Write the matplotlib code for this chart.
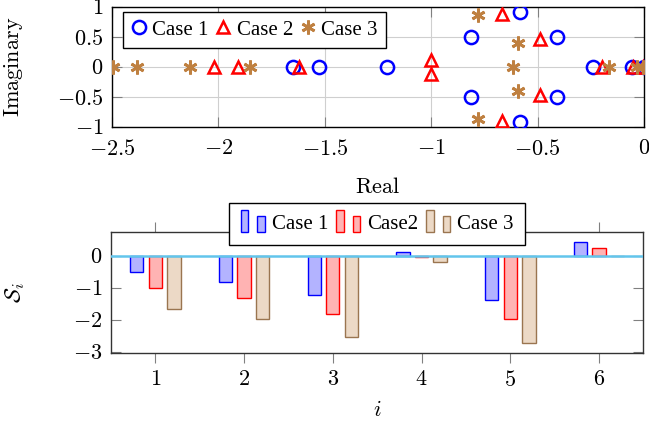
import matplotlib
matplotlib.use("Agg")
import matplotlib.pyplot as plt
from matplotlib.patches import Rectangle
from matplotlib.legend_handler import HandlerBase
import numpy as np

plt.rcParams['mathtext.fontset'] = 'cm'
plt.rcParams['font.family'] = ['Liberation Serif', 'DejaVu Serif']

# ---------------- data: eigenvalues (top) ----------------
case1_re = [-1.648, -1.527, -1.209, -0.813, -0.813, -0.581, -0.581, -0.410, -0.410, -0.238, -0.058, 0.0]
case1_im = [0.0, 0.0, 0.0, 0.50, -0.50, 0.91, -0.91, 0.50, -0.50, 0.0, 0.0, 0.0]
case2_re = [-2.019, -1.909, -1.621, -0.999, -0.999, -0.669, -0.669, -0.489, -0.489, -0.199, -0.050, -0.005]
case2_im = [0.0, 0.0, 0.0, 0.12, -0.12, 0.89, -0.89, 0.47, -0.47, 0.0, 0.0, 0.0]
case3_re = [-2.494, -2.384, -2.133, -1.852, -0.779, -0.779, -0.594, -0.594, -0.617, -0.165, -0.034, -0.003]
case3_im = [0.0, 0.0, 0.0, 0.0, 0.86, -0.86, 0.40, -0.40, 0.0, 0.0, 0.0, 0.0]
top_xticks = [-2.5, -2, -1.5, -1, -0.5, 0]
top_xticklabels = [r'$-2.5$', r'$-2$', r'$-1.5$', r'$-1$', r'$-0.5$', r'$0$']
top_yticks = [-1, -0.5, 0, 0.5, 1]
top_yticklabels = [r'$-1$', r'$-0.5$', r'$0$', r'$0.5$', r'$1$']

# ---------------- data: sensitivities (bottom) ----------------
idx = [1, 2, 3, 4, 5, 6]
s_case1 = [-0.51, -0.81, -1.23, 0.11, -1.38, 0.42]
s_case2 = [-1.02, -1.31, -1.80, -0.05, -1.96, 0.23]
s_case3 = [-1.67, -1.96, -2.53, -0.20, -2.73, -0.02]
bot_yticks = [-3, -2, -1, 0]
bot_yticklabels = [r'$-3$', r'$-2$', r'$-1$', r'$0$']
bot_xticklabels = [r'$1$', r'$2$', r'$3$', r'$4$', r'$5$', r'$6$']
legend_labels = ['Case 1', 'Case2', 'Case 3']

BLUE = '#0000ff'
RED = '#ff0000'
BROWN = '#bf8040'
TICKC = '#808080'

fig = plt.figure(figsize=(6.49, 4.25), dpi=100)
W, H = 649, 425

def axes_px(l, r, t, b):
    return fig.add_axes([l / W, 1 - b / H, (r - l) / W, (b - t) / H])

# ---------------- top axes ----------------
ax1 = axes_px(112, 644, 7, 127.3)
ax1.plot(case1_re, case1_im, linestyle='none', marker='o', ms=9.5, mfc='none',
         mec=BLUE, mew=1.8, label='Case 1', zorder=3)
ax1.plot(case2_re, case2_im, linestyle='none', marker='^', ms=8.5, mfc='none',
         mec=RED, mew=1.8, label='Case 2', zorder=3)
ax1.plot(case3_re, case3_im, linestyle='none', marker=(6, 2, 0), ms=10, mfc='none',
         mec=BROWN, mew=2.0, label='Case 3', zorder=3)
ax1.set_xlim(-2.5, 0)
ax1.set_ylim(-1, 1)
ax1.set_xticks(top_xticks)
ax1.set_xticklabels(top_xticklabels)
ax1.set_yticks(top_yticks)
ax1.set_yticklabels(top_yticklabels)
ax1.grid(True, color='#cfcfcf', lw=0.8)
ax1.set_axisbelow(True)
ax1.tick_params(direction='in', length=7, width=0.8, color=TICKC, top=True, right=True,
                labelsize=16)
ax1.tick_params(axis='x', pad=9)
ax1.tick_params(axis='y', pad=6)
for s in ax1.spines.values():
    s.set_color('black')
    s.set_linewidth(1.0)
ax1.set_xlabel(r'$\mathrm{Real}$', fontsize=16)
ax1.set_ylabel(r'$\mathrm{Imaginary}$', fontsize=16)
ax1.xaxis.set_label_coords(0.5, -0.42)
ax1.yaxis.set_label_coords(-0.1635, 0.5)
leg1 = ax1.legend(loc='upper left', bbox_to_anchor=(0.021, 0.961), borderaxespad=0,
                  ncol=3, fontsize=15, handlelength=0.7, handletextpad=0.3,
                  columnspacing=0.35, borderpad=0.4, fancybox=False, framealpha=1,
                  edgecolor='black')
leg1.get_frame().set_linewidth(1.0)

# ---------------- bottom axes ----------------
ax2 = axes_px(111, 643.3, 232.3, 352.7)
x = np.array(idx, dtype=float)
bw = 0.15
off = 0.21
specs = [(s_case1, -off, '#b3b3ff', BLUE),
         (s_case2, 0.0, '#ffb3b3', RED),
         (s_case3, off, '#ecd9c6', '#9a7550')]
for vals, o, fc, ec in specs:
    ax2.bar(x + o, vals, width=bw, color=fc, edgecolor=ec, linewidth=1.0, zorder=2)
ax2.axhline(0, color='#62c5ec', lw=1.8, zorder=3)
ax2.set_xlim(0.5, 6.5)
ax2.set_ylim(-3.02, 0.73)
ax2.set_xticks(idx)
ax2.set_xticklabels(bot_xticklabels)
ax2.set_yticks(bot_yticks)
ax2.set_yticklabels(bot_yticklabels)
ax2.tick_params(axis='x', direction='out', length=7.5, width=0.8, color=TICKC, top=True,
                labelsize=16, pad=6)
ax2.tick_params(axis='y', direction='in', length=7, width=0.8, color=TICKC, right=True,
                labelsize=16, pad=6)
for s in ax2.spines.values():
    s.set_color('#333333')
    s.set_linewidth(1.0)
ax2.set_xlabel(r'$i$', fontsize=16)
ax2.set_ylabel(r'$\mathcal{S}_i$', fontsize=16)
ax2.xaxis.set_label_coords(0.5, -0.40)
ax2.yaxis.set_label_coords(-0.158, 0.5)


class TwoBarHandler(HandlerBase):
    def __init__(self, fc, ec):
        super().__init__()
        self.fc = fc
        self.ec = ec

    def create_artists(self, legend, orig_handle, xdescent, ydescent, width, height,
                       fontsize, trans):
        bwid = width * 0.32
        h1 = height * 1.45
        h2 = height * 1.1
        y0 = -ydescent - height * 0.2
        r1 = Rectangle((-xdescent, y0), bwid, h1, facecolor=self.fc, edgecolor=self.ec,
                       lw=1.0, transform=trans)
        r2 = Rectangle((-xdescent + width - bwid, y0), bwid, h2, facecolor=self.fc,
                       edgecolor=self.ec, lw=1.0, transform=trans)
        return [r1, r2]


handles = [Rectangle((0, 0), 1, 1) for _ in range(3)]
hmap = {handles[0]: TwoBarHandler('#b3b3ff', BLUE),
        handles[1]: TwoBarHandler('#ffb3b3', RED),
        handles[2]: TwoBarHandler('#ecd9c6', '#9a7550')}
leg2 = ax2.legend(handles, legend_labels, handler_map=hmap, loc='center',
                  bbox_to_anchor=(0.5, 1.07), ncol=3, fontsize=15, handlelength=1.17,
                  handletextpad=0.32, columnspacing=0.38, borderpad=0.55,
                  fancybox=False, framealpha=1, edgecolor='black')
leg2.get_frame().set_linewidth(1.0)
leg2.set_zorder(5)

fig.savefig('out.png', dpi=100)
